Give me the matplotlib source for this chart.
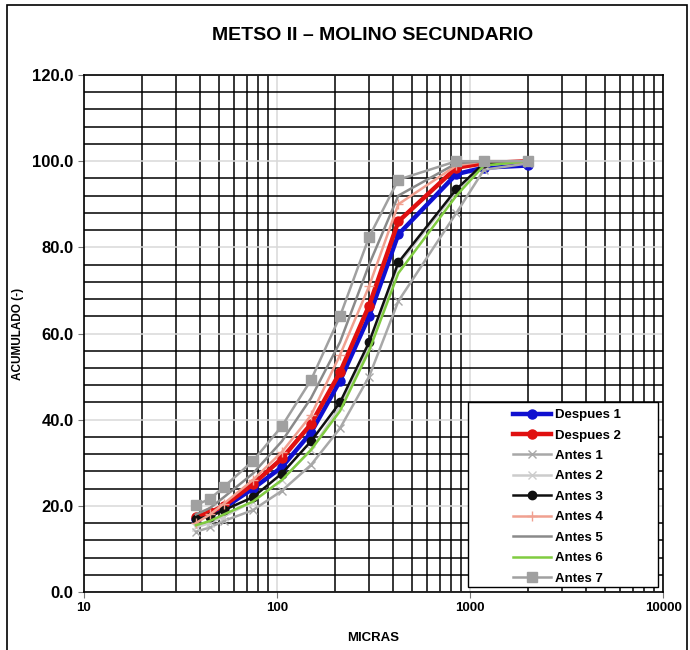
import numpy as np
import matplotlib.pyplot as plt
from matplotlib.ticker import FixedLocator, FuncFormatter, NullFormatter
from matplotlib.patches import Rectangle

plt.rcParams['font.family'] = ['Liberation Sans Narrow', 'Liberation Sans', 'DejaVu Sans']

# sieve sizes (micras)
micras = [38, 45, 53, 75, 106, 150, 212, 300, 425, 850, 1180, 2000]

despues_1 = [17.0, 18.0, 19.5, 24.0, 29.0, 37.0, 49.0, 64.0, 83.0, 97.0, 98.5, 99.0]
despues_2 = [17.5, 18.5, 20.0, 25.0, 31.0, 39.0, 51.0, 66.5, 86.0, 98.5, 99.5, 100.0]
antes_1 = [14.0, 15.0, 16.5, 19.0, 23.5, 29.5, 38.0, 50.0, 67.5, 88.0, 98.0, 99.5]
antes_2 = [15.0, 16.0, 17.5, 21.0, 26.0, 33.0, 43.0, 57.0, 76.0, 93.0, 99.0, 100.0]
antes_3 = [17.0, 17.5, 19.0, 22.0, 27.5, 35.0, 44.0, 58.0, 76.5, 93.5, 99.5, 100.0]
antes_4 = [16.0, 18.0, 20.5, 26.0, 32.5, 41.0, 55.0, 71.0, 90.0, 99.0, 100.0, 100.0]
antes_5 = [18.0, 19.5, 22.0, 27.5, 35.0, 45.0, 58.0, 76.0, 92.0, 99.5, 100.0, 100.0]
antes_6 = [15.5, 16.5, 18.0, 21.0, 26.0, 33.0, 42.0, 56.0, 74.0, 92.0, 99.0, 100.0]
antes_7 = [20.2, 21.6, 24.4, 30.4, 38.5, 49.2, 64.0, 82.4, 95.7, 100.0, 100.0, 100.0]

series = [
    ('Despues 1', despues_1, '#1010d0', 'o', 3.2, 6.5),
    ('Despues 2', despues_2, '#e01010', 'o', 3.2, 6.5),
    ('Antes 1', antes_1, '#a8a8a8', 'x', 1.8, 6),
    ('Antes 2', antes_2, '#cccccc', 'x', 1.8, 6),
    ('Antes 3', antes_3, '#101010', 'o', 1.8, 6),
    ('Antes 4', antes_4, '#f0a090', '+', 1.8, 7),
    ('Antes 5', antes_5, '#8a8a8a', None, 1.8, 6),
    ('Antes 6', antes_6, '#80cc40', None, 1.8, 6),
    ('Antes 7', antes_7, '#a0a0a0', 's', 1.8, 7),
]

fig = plt.figure(figsize=(6.9, 6.5), dpi=100)
ax = fig.add_axes([0.1217, 0.0892, 0.8393, 0.7954])

# chart border
fig.patches.append(Rectangle((0.010, -0.01), 0.985, 1.002, transform=fig.transFigure,
                             fill=False, edgecolor='black', linewidth=1.2))

ax.set_xscale('log')
ax.set_xlim(10, 10000)
ax.set_ylim(0, 120)

# grid: black minor lines, light gray major lines
minor_x = [m * d for d in (10, 100, 1000) for m in range(2, 10)]
ax.xaxis.set_minor_locator(FixedLocator(minor_x))
ax.xaxis.set_minor_formatter(NullFormatter())
ax.set_xticks([10, 100, 1000, 10000])
ax.xaxis.set_major_formatter(FuncFormatter(lambda v, p: f'{int(v)}'))
ax.set_yticks(np.arange(0, 121, 20))
ax.yaxis.set_minor_locator(FixedLocator([v for v in range(4, 120, 4) if v % 20]))
ax.yaxis.set_major_formatter(FuncFormatter(lambda v, p: f'{v:.1f}'))

ax.grid(True, which='minor', color='black', linewidth=1.1)
ax.grid(True, which='major', color='#d8d8d8', linewidth=1.1)
ax.set_axisbelow(True)
ax.tick_params(which='minor', length=0)
ax.tick_params(which='major', length=4, direction='out', color='#777777')
for lab in ax.get_yticklabels():
    lab.set_fontsize(12)
    lab.set_fontweight('bold')
for lab in ax.get_xticklabels():
    lab.set_fontsize(9.5)
    lab.set_fontweight('bold')
ax.tick_params(axis='x', pad=3)

for s in ax.spines.values():
    s.set_color('black')
    s.set_linewidth(1.2)

for name, vals, col, mk, lw, ms in series:
    ax.plot(micras, vals, color=col, linewidth=lw, marker=mk, markersize=ms,
            markeredgecolor=col, markerfacecolor=col, label=name)

ax.set_xlabel('MICRAS', fontsize=9.5, fontweight='bold', labelpad=13)
ax.set_ylabel('ACUMULADO (-)', fontsize=8.5, fontweight='bold', labelpad=6)
fig.text(0.54, 0.945, 'METSO II – MOLINO SECUNDARIO', ha='center', va='center',
         fontsize=14, fontweight='bold')

# legend box (wider than the entries, as in the original)
ax.add_patch(Rectangle((0.663, 0.0097), 0.328, 0.358, transform=ax.transAxes,
                       facecolor='white', edgecolor='black', linewidth=1.0, zorder=5))
leg = ax.legend(loc='upper left', bbox_to_anchor=(513 / 690, 1 - 409 / 650),
                bbox_transform=fig.transFigure, prop={'weight': 'bold', 'size': 9.5},
                handlelength=2.9, labelspacing=0.62, borderpad=0.0, frameon=False,
                handletextpad=0.25, borderaxespad=0)
leg.set_zorder(6)

fig.savefig('out.png', dpi=100)
